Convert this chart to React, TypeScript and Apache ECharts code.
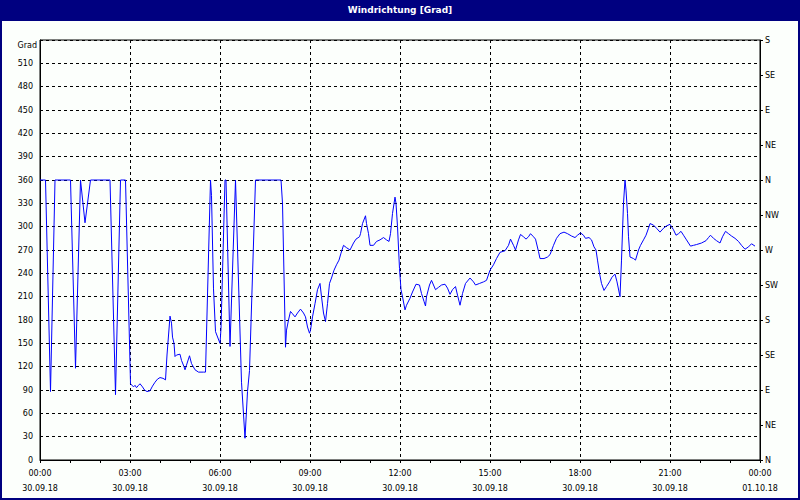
import React, { useEffect, useRef } from "react";
import * as echarts from "echarts";

const chartTitle = "Windrichtung [Grad]";
const unitLabel = "Grad";
const startDate = "30.09.18";
const endDate = "01.10.18";
const compassLabels = ["N", "NE", "E", "SE", "S", "SW", "W", "NW", "N", "NE", "E", "SE", "S"];

// minutes since 30.09.18 00:00
const minutes = [
  0, 11, 21, 30, 61, 71, 81, 90, 101, 140, 151, 161, 171, 181, 187, 190, 193, 197, 200, 205,
  209, 214, 220, 225, 230, 235, 240, 246, 251, 254, 260, 263, 265, 268, 270, 273, 280, 283, 288, 290,
  293, 299, 303, 310, 317, 327, 331, 341, 343, 347, 351, 360, 362, 370, 372, 380, 391, 403, 410, 415,
  419, 431, 482, 485, 491, 493, 497, 501, 505, 510, 515, 521, 527, 531, 535, 539, 541, 545, 550, 555,
  560, 563, 567, 571, 575, 579, 583, 588, 593, 598, 602, 607, 613, 620, 627, 632, 639, 641, 645, 651,
  653, 657, 660, 667, 673, 680, 687, 693, 698, 701, 705, 710, 712, 715, 719, 722, 725, 730, 733, 740,
  745, 752, 759, 763, 768, 771, 773, 779, 783, 787, 791, 797, 803, 810, 815, 820, 825, 831, 835, 840,
  845, 851, 860, 867, 871, 879, 887, 893, 900, 907, 913, 920, 930, 937, 941, 947, 951, 957, 961, 967,
  972, 977, 981, 987, 991, 997, 1000, 1008, 1015, 1020, 1027, 1033, 1040, 1048, 1055, 1063, 1070, 1075, 1081, 1087,
  1091, 1098, 1103, 1108, 1112, 1115, 1119, 1123, 1128, 1133, 1139, 1144, 1150, 1154, 1160, 1163, 1167, 1170, 1172, 1175,
  1177, 1180, 1187, 1191, 1197, 1201, 1207, 1212, 1217, 1220, 1227, 1233, 1240, 1247, 1253, 1260, 1263, 1267, 1272, 1277,
  1282, 1287, 1293, 1301, 1307, 1313, 1323, 1332, 1337, 1341, 1347, 1353, 1360, 1365, 1371, 1377, 1383, 1390, 1397, 1403,
  1410, 1417, 1423, 1430,
];

// wind direction in degrees
const degrees = [
  360, 360, 88, 360, 360, 118, 360, 305, 360, 360, 84, 360, 360, 98, 94, 96, 93, 96, 98, 94,
  90, 88, 89, 95, 100, 104, 106, 105, 103, 135, 185, 176, 158, 150, 133, 135, 136, 128, 120, 116,
  122, 134, 124, 116, 113, 113, 113, 360, 340, 220, 165, 150, 169, 360, 360, 146, 360, 100, 28, 88,
  115, 360, 360, 330, 145, 167, 180, 191, 188, 184, 189, 194, 189, 184, 171, 163, 167, 184, 201, 219,
  227, 210, 189, 178, 201, 227, 234, 244, 251, 257, 266, 276, 273, 270, 279, 284, 287, 291, 304, 314,
  304, 291, 276, 276, 281, 283, 286, 283, 281, 291, 317, 338, 330, 300, 246, 219, 210, 193, 199, 208,
  216, 226, 225, 214, 204, 198, 210, 225, 231, 225, 219, 222, 225, 226, 221, 213, 219, 223, 212, 199,
  214, 227, 234, 229, 225, 227, 229, 231, 244, 251, 259, 267, 269, 276, 284, 276, 270, 283, 290, 287,
  284, 287, 291, 287, 284, 268, 259, 259, 261, 264, 276, 285, 291, 293, 291, 288, 286, 289, 292, 289,
  285, 286, 283, 274, 270, 257, 240, 227, 218, 223, 229, 235, 239, 229, 210, 257, 330, 360, 347, 317,
  287, 261, 259, 257, 270, 276, 283, 289, 298, 304, 302, 298, 293, 298, 301, 303, 300, 296, 289, 291,
  294, 289, 283, 275, 276, 277, 279, 282, 286, 289, 285, 282, 279, 287, 294, 291, 288, 285, 281, 276,
  271, 274, 278, 275,
];

const pad2 = (n: number) => String(n).padStart(2, "0");

export default function App() {
  const ref = useRef<HTMLDivElement>(null);
  useEffect(() => {
    document.body.style.margin = "0";
    const chart = echarts.init(ref.current!, null, { renderer: "svg" });
    const font = "'DejaVu Sans', Tahoma, sans-serif";
    const data = minutes.map((m, i) => [m, degrees[i]]);
    const dash = [3, 3];
    chart.setOption({
      animation: false,
      backgroundColor: "#fcfffc",
      grid: {
        left: 40,
        right: 40,
        top: 40,
        bottom: 40,
        show: true,
        borderColor: "#000",
        borderWidth: 1,
        backgroundColor: "transparent",
      },
      xAxis: {
        type: "value",
        min: 0,
        max: 1440,
        interval: 180,
        axisLine: { show: true, onZero: false, lineStyle: { color: "#000", width: 1 } },
        axisTick: { show: true, length: 3, lineStyle: { color: "#000" } },
        minorTick: { show: true, splitNumber: 3, length: 3, lineStyle: { color: "#000" } },
        splitLine: { show: true, lineStyle: { color: "#000", type: dash, width: 1 } },
        axisLabel: {
          color: "#000",
          fontFamily: font,
          fontSize: 8,
          lineHeight: 15,
          margin: 6,
          formatter: (v: number) => {
            const h = Math.floor(v / 60) % 24;
            return pad2(h) + ":" + pad2(Math.round(v % 60)) + "\n" + (v >= 1440 ? endDate : startDate);
          },
        },
      },
      yAxis: [
        {
          type: "value",
          position: "left",
          min: 0,
          max: 540,
          interval: 30,
          axisLine: { show: true, lineStyle: { color: "#000" } },
          axisTick: { show: false },
          splitLine: { show: true, lineStyle: { color: "#000", type: dash, width: 1 } },
          axisLabel: {
            color: "#000",
            fontFamily: font,
            fontSize: 8,
            margin: 7,
            formatter: (v: number) => (v >= 540 ? "" : String(v)),
          },
        },
        {
          type: "value",
          position: "right",
          min: 0,
          max: 540,
          interval: 45,
          axisLine: { show: true, lineStyle: { color: "#000" } },
          axisTick: { show: true, length: 3, lineStyle: { color: "#000" } },
          splitLine: { show: false },
          axisLabel: {
            color: "#000",
            fontFamily: font,
            fontSize: 8,
            margin: 5,
            formatter: (v: number) => compassLabels[Math.round(v / 45)] ?? "",
          },
        },
      ],
      series: [
        {
          type: "line",
          data,
          yAxisIndex: 0,
          symbol: "none",
          showSymbol: false,
          lineStyle: { color: "#0000ff", width: 1 },
          itemStyle: { color: "#0000ff" },
        },
      ],
      graphic: [
        {
          type: "rect",
          z: 100,
          shape: { x: 0, y: 0, width: 800, height: 21 },
          style: { fill: "#000080" },
        },
        {
          type: "text",
          z: 101,
          x: 400,
          y: 10,
          style: {
            text: chartTitle,
            fill: "#ffffff",
            font: "bold 9px 'DejaVu Sans', Tahoma, sans-serif",
            align: "center",
            verticalAlign: "middle",
          },
        },
        {
          type: "rect",
          z: 100,
          shape: { x: 1, y: 1, width: 798, height: 498 },
          style: { fill: "none", stroke: "#000080", lineWidth: 2 },
        },
        {
          type: "text",
          z: 101,
          x: 37,
          y: 45,
          style: {
            text: unitLabel,
            fill: "#000",
            font: "8px 'DejaVu Sans', Tahoma, sans-serif",
            align: "right",
            verticalAlign: "middle",
          },
        },
      ],
    });
    return () => chart.dispose();
  }, []);
  return <div ref={ref} style={{ width: 800, height: 500 }} />;
}
